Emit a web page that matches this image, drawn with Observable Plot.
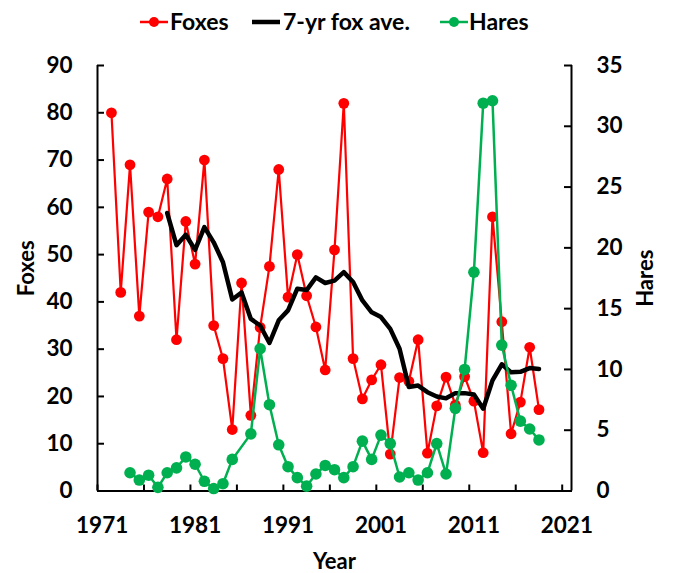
<!DOCTYPE html>
<html><head><meta charset="utf-8">
<script src="https://cdn.jsdelivr.net/npm/d3@7"></script>
<script src="https://cdn.jsdelivr.net/npm/@observablehq/plot@0.6"></script>
<style>
body{margin:0;background:#fff;font-family:Lato,sans-serif;}
#wrap{position:relative;width:681px;}
#legend{position:relative;height:40px;width:681px;font-weight:bold;font-size:23px;color:#000;}
.sw{position:absolute;top:0;}
.lt{position:absolute;top:0;height:42px;line-height:42px;white-space:nowrap;}
</style></head><body>
<div id="wrap"><div id="legend"></div><div id="chart"></div></div>
<script>
const foxYears = [1972,1973,1974,1975,1976,1977,1978,1979,1980,1981,1982,1983,1984,1985,1986,1987,1988,1989,1990,1991,1992,1993,1994,1995,1996,1997,1998,1999,2000,2001,2002,2003,2004,2005,2006,2007,2008,2009,2010,2011,2012,2013,2014,2015,2016,2017,2018];
const foxes = [80,42,69,37,59,58,66,32,57,48,70,35,28,13,44,16,34.6,47.5,68,41,50,41.3,34.7,25.6,51,82,28,19.5,23.5,26.7,7.8,24,23.2,32,8,18,24.1,18.2,24.2,19,8.1,58,35.8,12.1,18.8,30.4,17.2];

const aveYears = [1978,1979,1980,1981,1982,1983,1984,1985,1986,1987,1988,1989,1990,1991,1992,1993,1994,1995,1996,1997,1998,1999,2000,2001,2002,2003,2004,2005,2006,2007,2008,2009,2010,2011,2012,2013,2014,2015,2016,2017,2018];
const foxAve = [58.8,52,54.2,51,55.8,52.6,48.4,40.5,42,36.4,35,31.3,36.1,38.2,42.8,42.5,45.2,44,44.5,46.3,44.2,40.3,37.8,36.8,34.3,30.1,22,22.3,20.9,20,19.6,20.7,20.7,20.4,17.4,23.4,26.8,25.1,25.2,26,25.8];

const hareYears = [1974,1975,1976,1977,1978,1979,1980,1981,1982,1983,1984,1985,1987,1988,1989,1990,1991,1992,1993,1994,1995,1996,1997,1998,1999,2000,2001,2002,2003,2004,2005,2006,2007,2008,2009,2010,2011,2012,2013,2014,2015,2016,2017,2018];
const hares = [1.5,0.9,1.3,0.3,1.5,1.9,2.8,2.2,0.8,0.2,0.6,2.6,4.7,11.7,7.1,3.8,2.0,1.1,0.4,1.4,2.1,1.75,1.1,2.0,4.1,2.6,4.6,3.9,1.15,1.5,0.9,1.5,3.9,1.4,6.8,10,18,31.9,32.1,12,8.7,5.75,5.1,4.2];

const foxTicks = [0,10,20,30,40,50,60,70,80,90];
const hareTicks = [0,5,10,15,20,25,30,35];
const yearLabels = [1971,1981,1991,2001,2011,2021];
const yearTickMarks = [1970.5,1975.5,1980.5,1985.5,1990.5,1995.5,2000.5,2005.5,2010.5,2015.5,2020.5];
const xDomain = [1970.5, 2021.5];

const RED = "#FF0000", GREEN = "#00B050", BLACK = "#000000";
const k = 90 / 35; // hares -> fox axis

const foxData = foxYears.map((year, i) => ({year, v: foxes[i]}));
const aveData = aveYears.map((year, i) => ({year, v: foxAve[i]}));
const hareData = hareYears.map((year, i) => ({year, v: hares[i] * k}));

// legend
const legendItems = [
  {label: "Foxes", color: RED, dot: true, sx: 140, tx: 170, sw: 2.5},
  {label: "7-yr fox ave.", color: BLACK, dot: false, sx: 252, tx: 283, sw: 4.5},
  {label: "Hares", color: GREEN, dot: true, sx: 440, tx: 469, sw: 2.5}
];
const leg = document.getElementById("legend");
for (const it of legendItems) {
  const s = document.createElementNS("http://www.w3.org/2000/svg", "svg");
  s.setAttribute("class", "sw");
  s.setAttribute("width", 28); s.setAttribute("height", 42);
  s.style.left = it.sx + "px";
  s.innerHTML = `<line x1="0" x2="28" y1="22" y2="22" stroke="${it.color}" stroke-width="${it.sw}"/>` +
    (it.dot ? `<circle cx="14" cy="22" r="5" fill="${it.color}"/>` : "");
  leg.appendChild(s);
  const t = document.createElement("div");
  t.className = "lt"; t.style.left = it.tx + "px"; t.textContent = it.label;
  leg.appendChild(t);
}

const chart = Plot.plot({
  width: 681, height: 533,
  marginTop: 25, marginBottom: 82.5, marginLeft: 97, marginRight: 110,
  x: {domain: xDomain},
  y: {domain: [0, 90]},
  style: {fontFamily: "Lato, sans-serif", fontWeight: "bold", fontSize: "22.5px", color: "#000", background: "#fff", overflow: "visible"},
  marks: [
    Plot.ruleX([xDomain[0], xDomain[1]], {stroke: BLACK, strokeWidth: 2}),
    Plot.ruleY([0], {stroke: BLACK, strokeWidth: 2}),
    Plot.axisY({ticks: foxTicks, tickSize: -7, tickFormat: () => "", strokeWidth: 2, strokeOpacity: 1, label: null}),
    Plot.axisY({ticks: foxTicks, tickSize: 0, tickPadding: 25, fontSize: 22.5, label: null}),
    Plot.axisY({anchor: "right", ticks: hareTicks.map(h => h * k), tickSize: -8, tickFormat: () => "", strokeWidth: 2, strokeOpacity: 1, label: null}),
    Plot.axisY({anchor: "right", ticks: hareTicks.map(h => h * k), tickSize: 0, tickPadding: 25, tickFormat: d => String(Math.round(d / k)), fontSize: 22.5, label: null}),
    Plot.axisX({ticks: yearTickMarks, tickSize: -6, tickFormat: () => "", strokeWidth: 2, strokeOpacity: 1, label: null}),
    Plot.axisX({ticks: yearLabels, tickSize: 0, tickPadding: 26, tickFormat: d => String(d), fontSize: 22.5, label: null}),
    Plot.text(["Foxes"], {frameAnchor: "left", dx: -71, dy: -10, rotate: -90, textAnchor: "middle", lineAnchor: "middle", fontSize: 22, fontWeight: "bold"}),
    Plot.text(["Hares"], {frameAnchor: "right", dx: 74, dy: 0, rotate: -90, textAnchor: "middle", lineAnchor: "middle", fontSize: 22, fontWeight: "bold"}),
    Plot.text(["Year"], {frameAnchor: "bottom", dy: 71, textAnchor: "middle", lineAnchor: "middle", fontSize: 22, fontWeight: "bold"}),
    Plot.line(foxData, {x: "year", y: "v", stroke: RED, strokeWidth: 2.2, strokeLinejoin: "round"}),
    Plot.dot(foxData, {x: "year", y: "v", r: 5.4, fill: RED}),
    Plot.line(aveData, {x: "year", y: "v", stroke: BLACK, strokeWidth: 4.5, strokeLinejoin: "round"}),
    Plot.line(hareData, {x: "year", y: "v", stroke: GREEN, strokeWidth: 2.5, strokeLinejoin: "round"}),
    Plot.dot(hareData, {x: "year", y: "v", r: 5.8, fill: GREEN})
  ]
});
document.getElementById("chart").appendChild(chart);
</script>
</body></html>
